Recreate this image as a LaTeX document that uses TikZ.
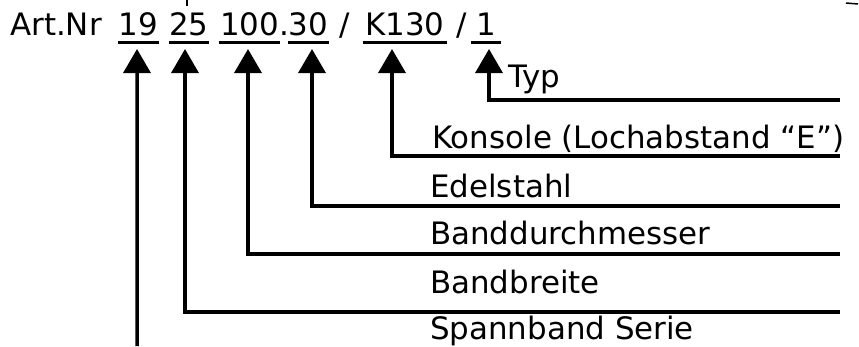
\documentclass[tikz,border=0pt]{standalone}
\usepackage{fontspec}
\setmainfont{DejaVu Sans}
\usetikzlibrary{arrows.meta}

\begin{document}
\begin{tikzpicture}[x=1bp, y=-1bp,
  txt/.style={inner sep=0pt, anchor=base west, font=\fontsize{31}{36}\selectfont},
  num/.style={txt, anchor=base},
  uline/.style={line width=3.5bp},
  pointer/.style={line width=3.5bp, -{Triangle[length=24bp,width=27bp]}}]
\useasboundingbox (0,0) rectangle (859,346);

\node[txt] (artnr) at (10,35.5) {Art.Nr};
\node[num, minimum width=41bp] (n19) at (138.5,35.5) {19};
\node[num, minimum width=40bp] (n25) at (189,35.5) {25};
\node[num, minimum width=61bp] (n100) at (249.5,35.5) {100};
\node[num] (dot) at (284,35.5) {.};
\node[num, minimum width=41bp] (n30) at (308.5,35.5) {30};
\node[num] (slasha) at (345,35.5) {/};
\node[num, minimum width=84bp] (nK) at (405,35.5) {K130};
\node[num] (slashb) at (462,35.5) {/};
\node[num, minimum width=30bp] (n1) at (486,35.5) {1};
\foreach \n in {n19,n25,n100,n30,nK,n1}
  \draw[uline] ([yshift=-7bp]\n.base west) -- ([yshift=-7bp]\n.base east);

\node[txt] (typ) at (508,87) {Typ};
\node[txt] (konsole) at (432,148) {Konsole (Lochabstand “E”)};
\node[txt] (edel) at (430,197) {Edelstahl};
\node[txt] (durchm) at (430,244) {Banddurchmesser};
\node[txt] (breite) at (430,293) {Bandbreite};
\node[txt] (serie) at (430,339) {Spannband Serie};

\coordinate (eTyp) at (840,100);
\coordinate (eKons) at (840,156);
\coordinate (eEdel) at (840,206);
\coordinate (eDurch) at (840,254);
\coordinate (eBreite) at (840,312);
\coordinate (eBottom) at (137,346);

\draw[pointer] (eTyp) -| ([xshift=3bp,yshift=-13.5bp]n1.base);
\draw[pointer] (eKons) -| ([xshift=-13bp,yshift=-13.5bp]nK.base);
\draw[pointer] (eEdel) -| ([xshift=3.5bp,yshift=-13.5bp]n30.base);
\draw[pointer] (eDurch) -| ([xshift=-1.5bp,yshift=-13.5bp]n100.base);
\draw[pointer] (eBreite) -| ([xshift=-4bp,yshift=-13.5bp]n25.base);
\draw[pointer] (eBottom) -- ([xshift=-1.5bp,yshift=-13.5bp]n19.base);

\draw[line width=2bp] (187,0) -- (187,6);
\draw[line width=1.5bp] (846,3) -- (858,4);
\end{tikzpicture}
\end{document}
